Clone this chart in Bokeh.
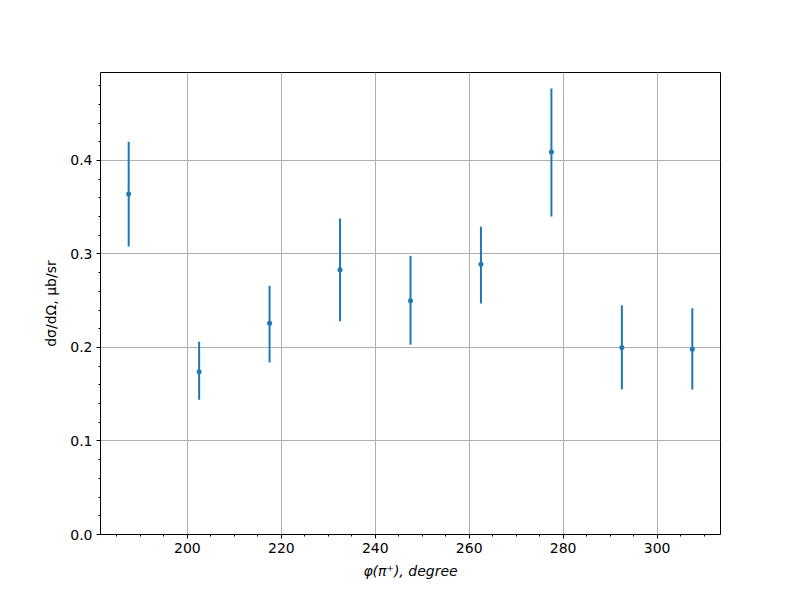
from bokeh.plotting import figure
from bokeh.models import ColumnDataSource, Range1d, FixedTicker, NumeralTickFormatter
from bokeh.embed import file_html
from bokeh.resources import INLINE

phi = [187.5, 202.5, 217.5, 232.5, 247.5, 262.5, 277.5, 292.5, 307.5]
xsec = [0.364, 0.174, 0.226, 0.283, 0.250, 0.289, 0.409, 0.200, 0.198]
err_lo = [0.308, 0.144, 0.184, 0.228, 0.203, 0.247, 0.340, 0.155, 0.155]
err_hi = [0.420, 0.206, 0.266, 0.338, 0.298, 0.329, 0.477, 0.245, 0.242]

x_ticks = [200, 220, 240, 260, 280, 300]
y_ticks = [0.0, 0.1, 0.2, 0.3, 0.4]

src = ColumnDataSource(dict(x=phi, y=xsec, lo=err_lo, hi=err_hi))

p = figure(width=784, height=584, output_backend="svg", toolbar_location=None,
           x_range=Range1d(181.5, 313.5), y_range=Range1d(0.0, 0.494),
           min_border_left=100, min_border_right=64, min_border_top=72, min_border_bottom=50)

p.segment(x0="x", y0="lo", x1="x", y1="hi", source=src, line_color="#1f77b4", line_width=2)
p.scatter(x="x", y="y", source=src, size=5, fill_color="#1f77b4", line_color=None)

p.xaxis.ticker = FixedTicker(ticks=x_ticks, minor_ticks=[185 + 5 * i for i in range(26)])
p.yaxis.ticker = FixedTicker(ticks=y_ticks, minor_ticks=[round(0.02 * i, 2) for i in range(25)])
p.yaxis.formatter = NumeralTickFormatter(format="0.0")

p.xaxis.axis_label = "φ(π⁺), degree"
p.yaxis.axis_label = "dσ/dΩ, μb/sr"
for ax in (p.xaxis[0], p.yaxis[0]):
    ax.axis_label_text_font = "DejaVu Sans"
    ax.axis_label_text_font_size = "14px"
    ax.axis_label_text_font_style = "normal"
    ax.axis_label_text_color = "black"
    ax.major_label_text_font = "DejaVu Sans"
    ax.major_label_text_font_size = "14px"
    ax.major_label_text_color = "black"
    ax.major_tick_out = 4
    ax.major_tick_in = 0
    ax.minor_tick_out = 2
    ax.minor_tick_in = 0
    ax.axis_line_color = None
    ax.major_tick_line_color = "black"
    ax.minor_tick_line_color = "black"
    ax.axis_label_standoff = 7
    ax.major_label_standoff = 4
p.xaxis[0].axis_label_text_font_style = "italic"
p.yaxis[0].axis_label_standoff = 8

p.xgrid.grid_line_color = "#b0b0b0"
p.ygrid.grid_line_color = "#b0b0b0"
p.xgrid.grid_line_width = 1
p.ygrid.grid_line_width = 1

p.outline_line_color = "black"
p.outline_line_width = 1
p.outline_line_alpha = 1
p.background_fill_color = "white"
p.border_fill_color = "white"

open("out.html", "w").write(file_html(p, INLINE))
